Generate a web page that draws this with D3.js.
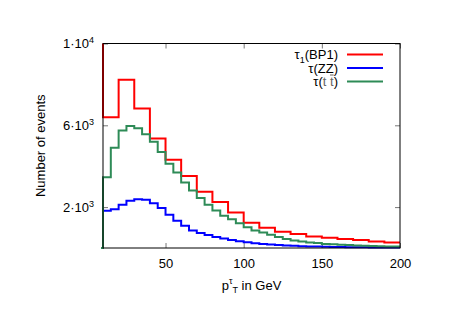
<!DOCTYPE html>
<html>
<head>
<meta charset="utf-8">
<script src="https://cdn.jsdelivr.net/npm/d3@7"></script>
<style>
  body { margin: 0; background: #fff; }
  svg { font-family: "Liberation Sans", Arial, sans-serif; }
</style>
</head>
<body>
<div id="chart"></div>
<script>
// Tamaño de la figura
const width = 465;
const height = 329;
const margin = {top: 43.5, right: 65, bottom: 81, left: 103};

// Histogramas: borde inferior de cada bin y número de eventos
// tau_1 (BP1), bins de 10 GeV (el primer bin se sale del gráfico)
const bp1Edges = [0, 10, 20, 30, 40, 50, 60, 70, 80, 90, 100, 110, 120, 130, 140, 150, 160, 170, 180, 190];
const bp1Values = [12000, 6390, 8230, 6820, 5360, 4320, 3520, 2750, 2250, 1740, 1230, 990, 800, 680, 560, 500, 440, 390, 320, 270];

// tau (ZZ), bins de 5 GeV
const zzEdges = [5, 10, 15, 20, 25, 30, 35, 40, 45, 50, 55, 60, 65, 70, 75, 80, 85, 90, 95, 100,
  105, 110, 115, 120, 125, 130, 135, 140, 145, 150, 155, 160, 165, 170, 175, 180, 185, 190, 195];
const zzValues = [0, 1820, 1900, 2110, 2310, 2390, 2355, 2190, 1950, 1625, 1330, 1085, 855, 730, 640,
  540, 460, 390, 330, 280, 235, 200, 170, 145, 125, 105, 90, 78, 68, 60, 52, 46, 40, 36, 32, 28, 25, 22, 20];

// tau (t tbar), bins de 5 GeV
const ttEdges = [5, 10, 15, 20, 25, 30, 35, 40, 45, 50, 55, 60, 65, 70, 75, 80, 85, 90, 95, 100,
  105, 110, 115, 120, 125, 130, 135, 140, 145, 150, 155, 160, 165, 170, 175, 180, 185, 190, 195];
const ttValues = [0, 3465, 4900, 5740, 5970, 5855, 5560, 5190, 4700, 4115, 3690, 3200, 2810, 2440, 2110,
  1835, 1575, 1400, 1215, 1020, 855, 760, 645, 535, 435, 370, 320, 270, 240, 200, 180, 160, 145, 125, 110, 95, 85, 75, 70];

const xTicks = [50, 100, 150, 200];
const yTicks = [2000, 6000, 10000];
const yTickLabels = [["2", "3"], ["6", "3"], ["1", "4"]];

const series = [
  {label: "BP1", edges: bp1Edges, values: bp1Values, color: "#ff0000"},
  {label: "ZZ", edges: zzEdges, values: zzValues, color: "#0000ff"},
  {label: "tt", edges: ttEdges, values: ttValues, color: "#2e8b57"}
];

const svg = d3.select("#chart")
  .append("svg")
  .attr("width", width)
  .attr("height", height);

const x = d3.scaleLinear().domain([10, 200]).range([margin.left, width - margin.right]);
const y = d3.scaleLinear().domain([0, 10000]).range([height - margin.bottom, margin.top]);

// clip del área de dibujo
svg.append("clipPath").attr("id", "plot-clip")
  .append("rect")
  .attr("x", margin.left - 2)
  .attr("y", margin.top)
  .attr("width", width - margin.left - margin.right + 3)
  .attr("height", height - margin.top - margin.bottom + 2);

// Ejes (ticks hacia dentro y espejo arriba/derecha)
const gx = svg.append("g")
  .attr("transform", `translate(0,${y(0)})`)
  .call(d3.axisBottom(x).tickValues(xTicks).tickSize(-5).tickSizeOuter(0).tickPadding(11));
svg.append("g")
  .attr("transform", `translate(0,${margin.top})`)
  .call(d3.axisTop(x).tickValues(xTicks).tickSize(-5).tickSizeOuter(0).tickFormat(""));
const gy = svg.append("g")
  .attr("transform", `translate(${margin.left},0)`)
  .call(d3.axisLeft(y).tickValues(yTicks).tickSize(-5).tickSizeOuter(0).tickPadding(9).tickFormat(""));
svg.append("g")
  .attr("transform", `translate(${width - margin.right},0)`)
  .call(d3.axisRight(y).tickValues(yTicks).tickSize(-5).tickSizeOuter(0).tickFormat(""));

svg.selectAll(".domain").remove();
svg.selectAll(".tick line").attr("stroke", "#777");
gx.selectAll(".tick text").attr("font-size", 13).attr("font-family", null).attr("fill", "#000");

// etiquetas del eje y con notación a·10^b
gy.selectAll(".tick text")
  .attr("font-size", 13)
  .attr("font-family", null)
  .attr("fill", "#000")
  .attr("dy", "0.32em")
  .each(function (d, i) {
    const t = d3.select(this);
    const lab = yTickLabels[i];
    t.append("tspan").text(lab[0] + "·10");
    t.append("tspan").attr("font-size", 9).attr("dy", "-5").text(lab[1]);
  });

// Histogramas
const line = d3.line()
  .x(d => x(d[0]))
  .y(d => y(d[1]))
  .curve(d3.curveStepAfter);

const plot = svg.append("g").attr("clip-path", "url(#plot-clip)");

series.forEach(s => {
  const pts = s.edges.map((e, i) => [e, s.values[i]]);
  pts.push([200, s.values[s.values.length - 1]]);
  plot.append("path")
    .datum(pts)
    .attr("fill", "none")
    .attr("stroke", s.color)
    .attr("stroke-width", 2)
    .attr("d", line);
});

// Marco
svg.append("rect")
  .attr("x", margin.left)
  .attr("y", margin.top)
  .attr("width", width - margin.left - margin.right)
  .attr("height", y(0) - margin.top)
  .attr("fill", "none")
  .attr("stroke", "#000")
  .attr("stroke-width", 1);

// Leyenda
const legY = [54.5, 68, 81.5];
const leg = svg.append("g").attr("font-size", 13);

series.forEach((s, i) => {
  leg.append("line")
    .attr("x1", 347).attr("x2", 383)
    .attr("y1", legY[i]).attr("y2", legY[i])
    .attr("stroke", s.color)
    .attr("stroke-width", 2);
});

const l0 = leg.append("text").attr("x", 338).attr("y", legY[0] + 4.5).attr("text-anchor", "end");
l0.append("tspan").text("τ");
l0.append("tspan").attr("font-size", 9).attr("dy", 4).text("1");
l0.append("tspan").attr("dy", -4).text("(BP1)");

leg.append("text").attr("x", 338).attr("y", legY[1] + 4.5).attr("text-anchor", "end").text("τ(ZZ)");

const l2 = leg.append("text").attr("x", 338).attr("y", legY[2] + 4.5).attr("text-anchor", "end");
l2.append("tspan").text("τ(");
l2.append("tspan").attr("fill", "#666").text("t t");
l2.append("tspan").text(")");

// barra sobre la segunda t
const tNode = l2.node();
const tStart = tNode.getStartPositionOfChar(4);
const tEnd = tNode.getEndPositionOfChar(4);
leg.append("line")
  .attr("x1", tStart.x).attr("x2", tEnd.x)
  .attr("y1", legY[2] - 6.5).attr("y2", legY[2] - 6.5)
  .attr("stroke", "#666")
  .attr("stroke-width", 1);

// Títulos de los ejes
const xl = svg.append("text")
  .attr("x", (margin.left + width - margin.right) / 2)
  .attr("y", 290)
  .attr("text-anchor", "middle")
  .attr("font-size", 13);
xl.append("tspan").text("p");
xl.append("tspan").attr("font-size", 9).attr("dy", -6).text("τ");
xl.append("tspan").attr("font-size", 9).attr("dy", 9).text("T");
xl.append("tspan").attr("dy", -3).text(" in GeV");

svg.append("text")
  .attr("transform", `translate(45,${(margin.top + y(0)) / 2}) rotate(-90)`)
  .attr("text-anchor", "middle")
  .attr("font-size", 13)
  .text("Number of events");
</script>
</body>
</html>
